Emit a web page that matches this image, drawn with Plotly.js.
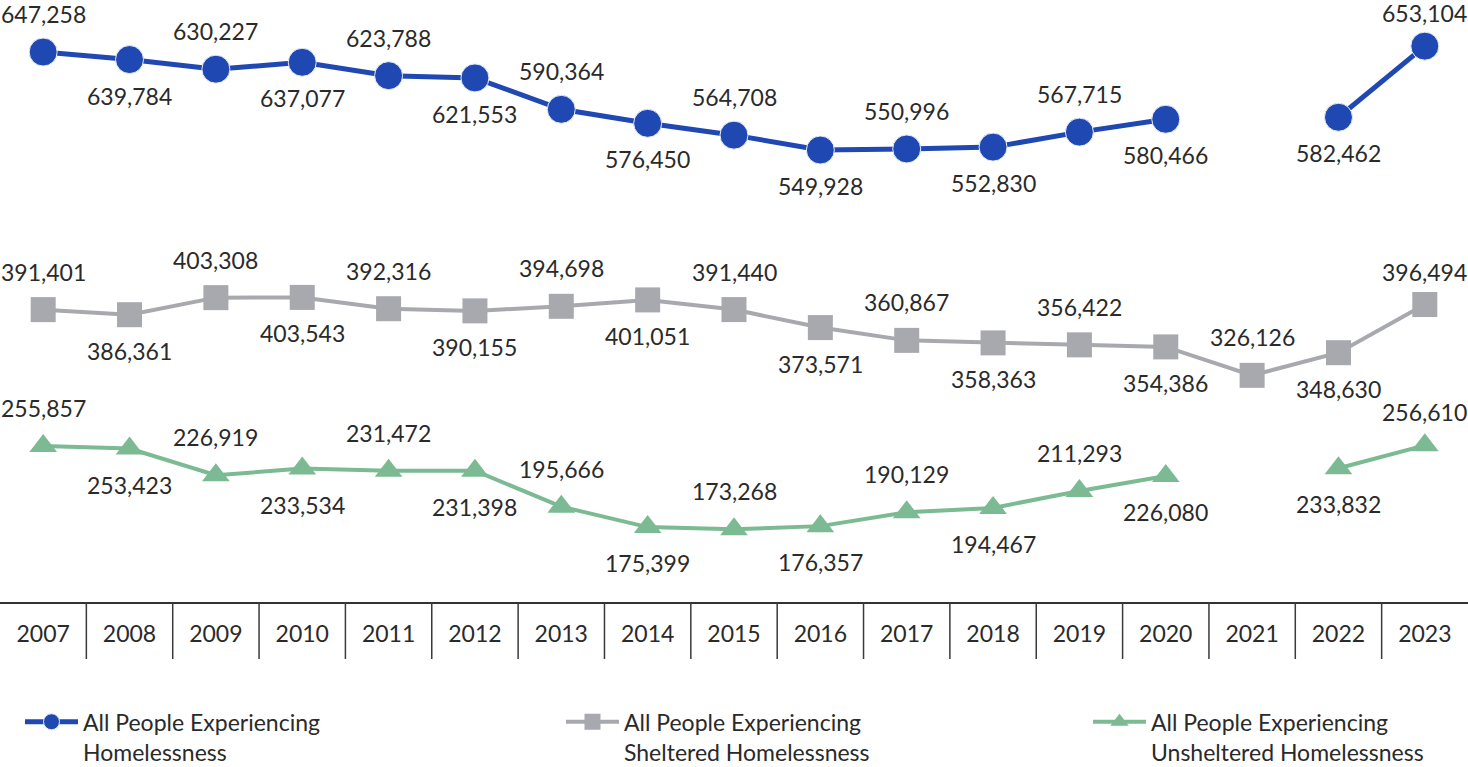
<!DOCTYPE html>
<html>
<head>
<meta charset="utf-8">
<script src="https://cdn.plot.ly/plotly-3.0.1.min.js"></script>
<style>html,body{margin:0;padding:0;background:#fff;}#chart{width:1468px;height:767px;}</style>
</head>
<body>
<div id="chart"></div>
<script>
const years = ["2007","2008","2009","2010","2011","2012","2013","2014","2015","2016","2017","2018","2019","2020","2021","2022","2023"];
const allPeople = [647258,639784,630227,637077,623788,621553,590364,576450,564708,549928,550996,552830,567715,580466,null,582462,653104];
const sheltered = [391401,386361,403308,403543,392316,390155,394698,401051,391440,373571,360867,358363,356422,354386,326126,348630,396494];
const unsheltered = [255857,253423,226919,233534,231472,231398,195666,175399,173268,176357,190129,194467,211293,226080,null,233832,256610];
const seriesNames = ["All People Experiencing<br>Homelessness","All People Experiencing<br>Sheltered Homelessness","All People Experiencing<br>Unsheltered Homelessness"];

const FONT = "Lato, sans-serif";
const TXT = "#2a2a2a";
const FS = 23;
const colors = ["#1f48b2","#a7a9af","#7bba93"];

function fmt(v){ return String(v).replace(/\B(?=(\d{3})+(?!\d))/g, ","); }

const traces = [
  {x: years, y: allPeople, name: seriesNames[0], legend: "legend", mode: "lines+markers", connectgaps: false,
   line: {color: colors[0], width: 5}, marker: {symbol: "circle", size: 28, color: colors[0], line: {color: "#e8ecf6", width: 1}}},
  {x: years, y: sheltered, name: seriesNames[1], legend: "legend2", mode: "lines+markers", connectgaps: false,
   line: {color: colors[1], width: 4}, marker: {symbol: "square", size: 25, color: colors[1]}},
  {x: years, y: unsheltered, name: seriesNames[2], legend: "legend3", mode: "lines+markers", connectgaps: false,
   line: {color: colors[2], width: 4}, marker: {symbol: "triangle-up", size: 24, color: colors[2]}}
];

const annotations = [];
[allPeople, sheltered, unsheltered].forEach(function(vals){
  vals.forEach(function(v, i){
    if (v === null) return;
    const above = (i % 2 === 0);
    const last = (i === vals.length - 1);
    annotations.push({x: i, y: v, xref: "x", yref: "y", text: fmt(v),
      showarrow: false, yshift: above ? (last ? 33 : 38) : -36, font: {family: FONT, size: FS, color: TXT}});
  });
});

const shapes = [];
for (let i = 0; i < years.length - 1; i++) {
  shapes.push({type: "line", xref: "x", yref: "paper", x0: i + 0.5, x1: i + 0.5, y0: 0, y1: -0.096,
    line: {color: "#3a3a3a", width: 1.5}});
}

function legendAt(xpx){
  return {orientation: "h", xref: "container", yref: "container", x: xpx / 1468, xanchor: "left",
    y: 0.087, yanchor: "top", itemwidth: 53, valign: "top", bgcolor: "rgba(0,0,0,0)",
    font: {family: FONT, size: FS, color: TXT}};
}

const layout = {
  width: 1468, height: 767,
  margin: {l: 0, r: 0, t: 8, b: 165},
  paper_bgcolor: "#fff", plot_bgcolor: "#fff",
  font: {family: FONT, color: TXT},
  showlegend: true,
  legend: legendAt(20),
  legend2: legendAt(561),
  legend3: legendAt(1088),
  xaxis: {type: "category", range: [-0.5, 16.5], showgrid: false, zeroline: false, automargin: false,
    showline: true, linecolor: "#333", linewidth: 2, ticks: "", ticklabelstandoff: 10,
    tickfont: {family: FONT, size: FS, color: TXT}, fixedrange: true},
  yaxis: {range: [101000, 691000], visible: false, showgrid: false, zeroline: false, fixedrange: true, automargin: false},
  annotations: annotations,
  shapes: shapes
};

Plotly.newPlot("chart", traces, layout, {displayModeBar: false, staticPlot: true});
</script>
</body>
</html>
